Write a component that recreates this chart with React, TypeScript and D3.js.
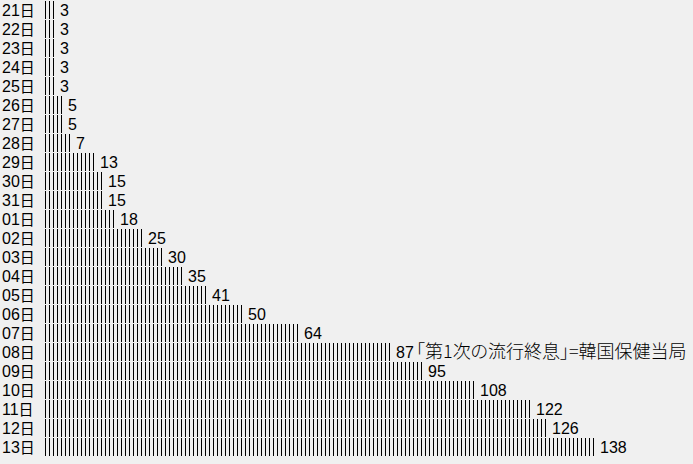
import React, { useEffect } from "react";
import * as d3 from "d3";

const days = ["21","22","23","24","25","26","27","28","29","30","31","01","02","03","04","05","06","07","08","09","10","11","12","13"];
const values = [3,3,3,3,3,5,5,7,13,15,15,18,25,30,35,41,50,64,87,95,108,122,126,138];
const noteDay = "08";
const noteText = "「第1次の流行終息」=韓国保健当局";
const suffix = "日";

const W = 693, H = 464;

export default function App() {
  useEffect(() => {
    document.body.style.margin = "0";
    document.body.style.background = "#f0f0f0";
  }, []);
  const y = d3.scaleBand<string>().domain(days).range([0, 19 * days.length]).padding(0);
  const x = d3.scaleLinear().domain([0, 138]).range([45, 45 + 138 * 4]);
  const font = "'Liberation Sans', 'Noto Sans CJK JP', sans-serif";
  const cjk = "'Noto Sans CJK JP', sans-serif";
  return (
    <svg width={W} height={H} style={{ position: "absolute", left: 0, top: 0, background: "#f0f0f0" }}>
      <rect x={0} y={0} width={W} height={H} fill="#f0f0f0" />
      {days.map((d, i) => {
        const top = y(d)!;
        const v = values[i];
        const ticks = d3.range(v);
        const valX = x(v) + 3;
        return (
          <g key={d}>
            <text x={2} y={top + 16} fontFamily={font} fontSize={16} fill="#000">
              {d}
              <tspan fontSize={15}>{suffix}</tspan>
            </text>
            {ticks.map((k) => (
              <line key={k} x1={Math.round(x(k)) + 0.5} x2={Math.round(x(k)) + 0.5} y1={top + 1} y2={top + 19} stroke="#000" strokeWidth={1} shapeRendering="crispEdges" />
            ))}
            <text x={valX} y={top + 16} fontFamily={font} fontSize={16} fill="#000">
              {v}
            </text>
            {d === noteDay && (
              <text
                x={valX + 20}
                y={top + 16}
                fontFamily={cjk}
                fontSize={18}
                fontWeight={300}
                fill="#000"
                style={{ fontFeatureSettings: '"palt"' }}
              >
                {noteText}
              </text>
            )}
          </g>
        );
      })}
    </svg>
  );
}
